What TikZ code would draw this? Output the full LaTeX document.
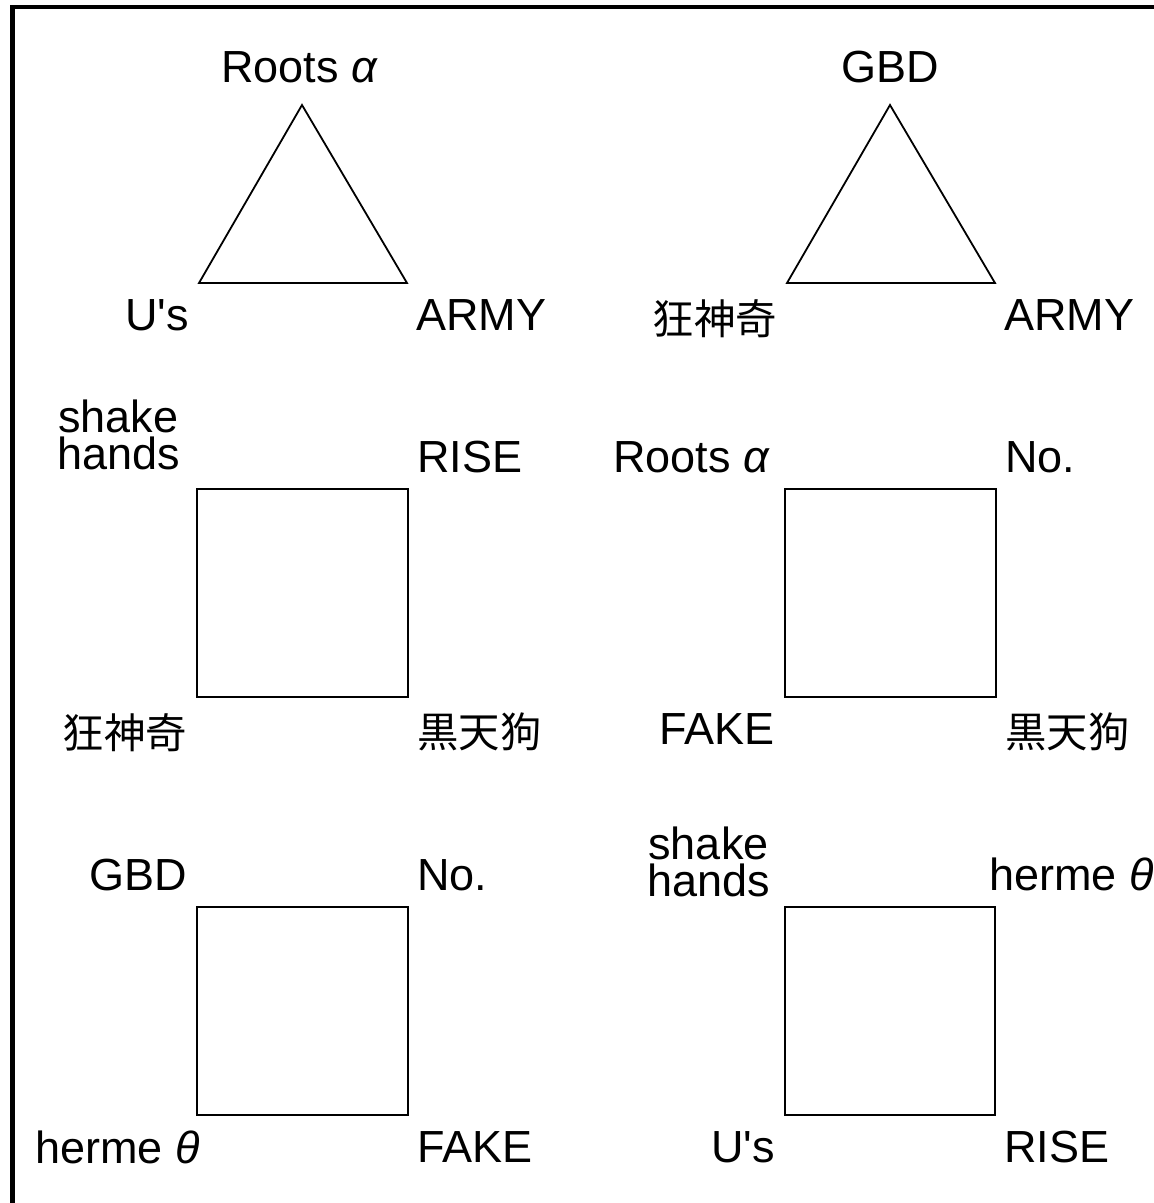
\documentclass[tikz,border=0pt]{standalone}
\usepackage{fontspec}
\setmainfont{Liberation Sans}
\newfontfamily\cjk[Scale=0.92]{Noto Sans CJK JP}

\begin{document}
\begin{tikzpicture}[x=1pt,y=-1pt,
    shp/.style={line width=1.8pt, line join=miter},
    lbl/.style={inner sep=0pt, font=\fontsize{45}{37}\selectfont, align=center},
    nw/.style={lbl, anchor=south east, xshift=-10pt, yshift=16pt},
    ne/.style={lbl, anchor=south west, xshift=9pt, yshift=16pt},
    sw/.style={lbl, anchor=north east, xshift=-10pt, yshift=-16pt},
    se/.style={lbl, anchor=north west, xshift=9pt, yshift=-16pt},
    tp/.style={lbl, anchor=south, yshift=22pt}]
    \useasboundingbox (0,0) rectangle (1154,1203);
    \clip (0,0) rectangle (1154,1203);
    \draw[line width=4.5pt] (12.5,7) rectangle (1190,1240);

    % triangle: Roots alpha
    \coordinate (ra) at (302,105);
    \coordinate (rb) at (199,283);
    \coordinate (rc) at (407,283);
    \draw[shp] (ra) -- (rb) -- (rc) -- cycle;
    \node[tp, xshift=-3pt] (raL) at (ra) {Roots {\itshape α}};
    \node[sw] (rbL) at (rb) {U\textquotesingle s};
    \node[se] (rcL) at (rc) {ARMY};

    % triangle: GBD
    \coordinate (ga) at (890,105);
    \coordinate (gb) at (787,283);
    \coordinate (gc) at (995,283);
    \draw[shp] (ga) -- (gb) -- (gc) -- cycle;
    \node[tp] (gaL) at (ga) {GBD};
    \node[sw] (gbL) at (gb) {\cjk 狂神奇};
    \node[se] (gcL) at (gc) {ARMY};

    % square 1
    \coordinate (s1a) at (197,489);
    \coordinate (s1b) at (408,489);
    \coordinate (s1c) at (408,697);
    \coordinate (s1d) at (197,697);
    \draw[shp] (s1a) -- (s1b) -- (s1c) -- (s1d) -- cycle;
    \node[nw, xshift=-7pt, yshift=3pt] (s1aL) at (s1a) {shake\\hands};
    \node[ne] (s1bL) at (s1b) {RISE};
    \node[se] (s1cL) at (s1c) {\cjk 黒天狗};
    \node[sw] (s1dL) at (s1d) {\cjk 狂神奇};

    % square 2
    \coordinate (s2a) at (785,489);
    \coordinate (s2b) at (996,489);
    \coordinate (s2c) at (996,697);
    \coordinate (s2d) at (785,697);
    \draw[shp] (s2a) -- (s2b) -- (s2c) -- (s2d) -- cycle;
    \node[nw, xshift=-6pt] (s2aL) at (s2a) {Roots {\itshape α}};
    \node[ne] (s2bL) at (s2b) {No.};
    \node[se] (s2cL) at (s2c) {\cjk 黒天狗};
    \node[sw] (s2dL) at (s2d) {FAKE};

    % square 3
    \coordinate (s3a) at (197,907);
    \coordinate (s3b) at (408,907);
    \coordinate (s3c) at (408,1115);
    \coordinate (s3d) at (197,1115);
    \draw[shp] (s3a) -- (s3b) -- (s3c) -- (s3d) -- cycle;
    \node[nw] (s3aL) at (s3a) {GBD};
    \node[ne] (s3bL) at (s3b) {No.};
    \node[se] (s3cL) at (s3c) {FAKE};
    \node[sw, xshift=13pt] (s3dL) at (s3d) {herme {\itshape θ}};

    % square 4
    \coordinate (s4a) at (785,907);
    \coordinate (s4b) at (995,907);
    \coordinate (s4c) at (995,1115);
    \coordinate (s4d) at (785,1115);
    \draw[shp] (s4a) -- (s4b) -- (s4c) -- (s4d) -- cycle;
    \node[nw, xshift=-5pt, yshift=-6pt] (s4aL) at (s4a) {shake\\hands};
    \node[ne, xshift=-15pt] (s4bL) at (s4b) {herme {\itshape θ}};
    \node[se] (s4cL) at (s4c) {RISE};
    \node[sw] (s4dL) at (s4d) {U\textquotesingle s};
\end{tikzpicture}
\end{document}
